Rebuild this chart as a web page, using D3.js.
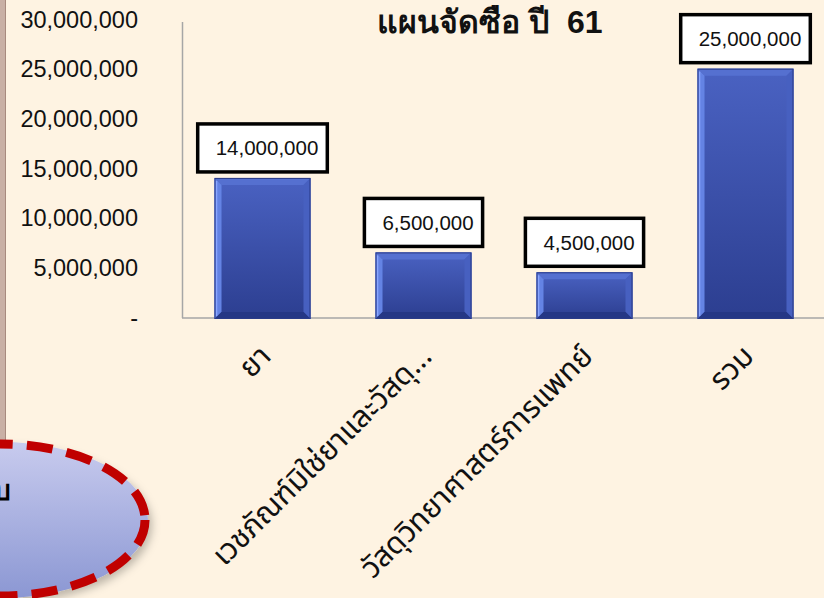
<!DOCTYPE html>
<html>
<head>
<meta charset="utf-8">
<script src="https://cdn.jsdelivr.net/npm/d3@7"></script>
<style>
  html, body { margin: 0; padding: 0; background: #fef3e2; }
  svg { display: block; }
</style>
</head>
<body>
<script>
// Purchase plan for fiscal year 61 (Thai baht)
const categories = ["ยา", "เวชภัณฑ์มิใช่ยาและวัสดุ...", "วัสดุวิทยาศาสตร์การแพทย์", "รวม"];
const values = [14000000, 6500000, 4500000, 25000000];
const valueLabels = ["14,000,000", "6,500,000", "4,500,000", "25,000,000"];
const tickValues = [0, 5000000, 10000000, 15000000, 20000000, 25000000, 30000000];
const tickLabels = ["-", "5,000,000", "10,000,000", "15,000,000", "20,000,000", "25,000,000", "30,000,000"];
const title = "แผนจัดซือ ปี  61";

const W = 824, H = 598;
const svg = d3.select("body").append("svg").attr("width", W).attr("height", H);

const defs = svg.append("defs");
const barGrad = defs.append("linearGradient").attr("id", "barGrad")
  .attr("x1", 0).attr("y1", 0).attr("x2", 0).attr("y2", 1);
barGrad.append("stop").attr("offset", 0).attr("stop-color", "#4a62c2");
barGrad.append("stop").attr("offset", 1).attr("stop-color", "#2c3e90");

const ellGrad = defs.append("linearGradient").attr("id", "ellGrad")
  .attr("x1", 0).attr("y1", 0).attr("x2", 0).attr("y2", 1);
ellGrad.append("stop").attr("offset", 0).attr("stop-color", "#c8cbee");
ellGrad.append("stop").attr("offset", 1).attr("stop-color", "#8b97d3");

const shadow = defs.append("filter").attr("id", "shadow")
  .attr("x", "-20%").attr("y", "-20%").attr("width", "150%").attr("height", "150%");
shadow.append("feDropShadow").attr("dx", 4).attr("dy", 5).attr("stdDeviation", 4)
  .attr("flood-color", "#000").attr("flood-opacity", 0.25);

// background
svg.append("rect").attr("width", W).attr("height", H).attr("fill", "#fef3e2");

// scales
const x = d3.scaleBand().domain(categories).range([182, 826])
  .paddingInner(0.404).paddingOuter(0.202);
const y = d3.scaleLinear().domain([0, 30000000]).range([317, 19]);

// y axis
const yAxis = d3.axisLeft(y).tickValues(tickValues)
  .tickFormat((d, i) => tickLabels[i]).tickSize(0).tickPadding(0);
const gy = svg.append("g").attr("transform", "translate(138,0)").call(yAxis);
gy.select(".domain").remove();
gy.selectAll("text").attr("font-family", "Liberation Sans, Arial, sans-serif")
  .attr("font-size", 23.5).attr("fill", "#111").attr("dy", "0.35em");

// axis lines
svg.append("line").attr("x1", 182.5).attr("x2", 182.5).attr("y1", 22).attr("y2", 318)
  .attr("stroke", "#a6a6a6").attr("stroke-width", 1.5);
svg.append("line").attr("x1", 182).attr("x2", W).attr("y1", 318).attr("y2", 318)
  .attr("stroke", "#a6a6a6").attr("stroke-width", 1.5);

// bars with bevelled edges
const bw = x.bandwidth();
const bars = svg.append("g").selectAll("g").data(categories).join("g");
bars.each(function (c, i) {
  const g = d3.select(this);
  const x0 = x(c), x1 = x(c) + bw;
  const y0 = y(values[i]), y1 = y(0) + 2;
  const b = Math.min(7, (y1 - y0) / 3);
  g.append("rect").attr("x", x0).attr("y", y0).attr("width", bw).attr("height", y1 - y0)
    .attr("fill", "url(#barGrad)");
  const poly = (pts, fill) => g.append("polygon")
    .attr("points", pts.map(p => p.join(",")).join(" "))
    .attr("fill", fill);
  poly([[x0, y0], [x1, y0], [x1 - b, y0 + b], [x0 + b, y0 + b]], "#5570d0");
  poly([[x0, y0], [x0 + b, y0 + b], [x0 + b, y1 - b], [x0, y1]], "#6483e4");
  poly([[x1, y0], [x1, y1], [x1 - b, y1 - b], [x1 - b, y0 + b]], "#4760c0");
  poly([[x0, y1], [x0 + b, y1 - b], [x1 - b, y1 - b], [x1, y1]], "#253785");
  g.append("line").attr("x1", x0 + 2).attr("x2", x0 + 2).attr("y1", y0 + 3).attr("y2", y1 - 3)
    .attr("stroke", "#8aa6ff").attr("stroke-width", 1.5);
  g.append("rect").attr("x", x0 + 0.5).attr("y", y0 + 0.5).attr("width", bw - 1)
    .attr("height", y1 - y0 - 1).attr("fill", "none").attr("stroke", "#2a3b88").attr("stroke-width", 1);
});

// value labels in boxes
const labels = svg.append("g").selectAll("g").data(categories).join("g");
labels.each(function (c, i) {
  const g = d3.select(this);
  const cx = x(c) + bw / 2;
  const t = g.append("text").text(valueLabels[i])
    .attr("font-family", "Liberation Sans, Arial, sans-serif").attr("font-size", 20.5)
    .attr("fill", "#111");
  const tw = t.node().getComputedTextLength();
  const boxW = tw + 27, boxH = 48;
  const by = y(values[i]) - 6 - boxH;
  g.insert("rect", "text").attr("x", cx - boxW / 2).attr("y", by)
    .attr("width", boxW).attr("height", boxH)
    .attr("fill", "#fff").attr("stroke", "#000").attr("stroke-width", 3.5);
  t.attr("x", cx - boxW / 2 + 18).attr("y", by + boxH / 2).attr("dy", "0.36em");
});

// category labels
svg.append("g").selectAll("text").data(categories).join("text")
  .attr("transform", d => `translate(${x(d) + bw / 2 + 10},${358}) rotate(-45)`)
  .attr("text-anchor", "end")
  .attr("font-family", "Noto Sans Thai, Loma, Garuda, sans-serif")
  .attr("font-size", 30).attr("fill", "#111")
  .text(d => d);

// title
svg.append("text").attr("x", 490).attr("y", 33).attr("text-anchor", "middle")
  .attr("font-family", "Tahoma, Liberation Sans, Arial, sans-serif")
  .attr("font-weight", "bold").attr("font-size", 32).attr("fill", "#111")
  .style("white-space", "pre")
  .text(title);

// left frame strip
svg.append("rect").attr("x", 0).attr("y", 0).attr("width", 6).attr("height", 450).attr("fill", "#c9b0a5");
svg.append("line").attr("x1", 5.5).attr("x2", 5.5).attr("y1", 0).attr("y2", 450)
  .attr("stroke", "#a88a7e").attr("stroke-width", 1);

// callout ellipse
svg.append("ellipse").attr("cx", 0).attr("cy", 520).attr("rx", 148).attr("ry", 78)
  .attr("fill", "url(#ellGrad)").attr("filter", "url(#shadow)");
svg.append("ellipse").attr("cx", 0).attr("cy", 520).attr("rx", 145).attr("ry", 76)
  .attr("fill", "none").attr("stroke", "#c00000").attr("stroke-width", 9)
  .attr("stroke-dasharray", "26,14");
svg.append("text").attr("x", 11).attr("y", 500).attr("text-anchor", "end")
  .attr("font-family", "Tahoma, sans-serif").attr("font-weight", "bold")
  .attr("font-size", 28).attr("fill", "#000").text("บ");
</script>
</body>
</html>
